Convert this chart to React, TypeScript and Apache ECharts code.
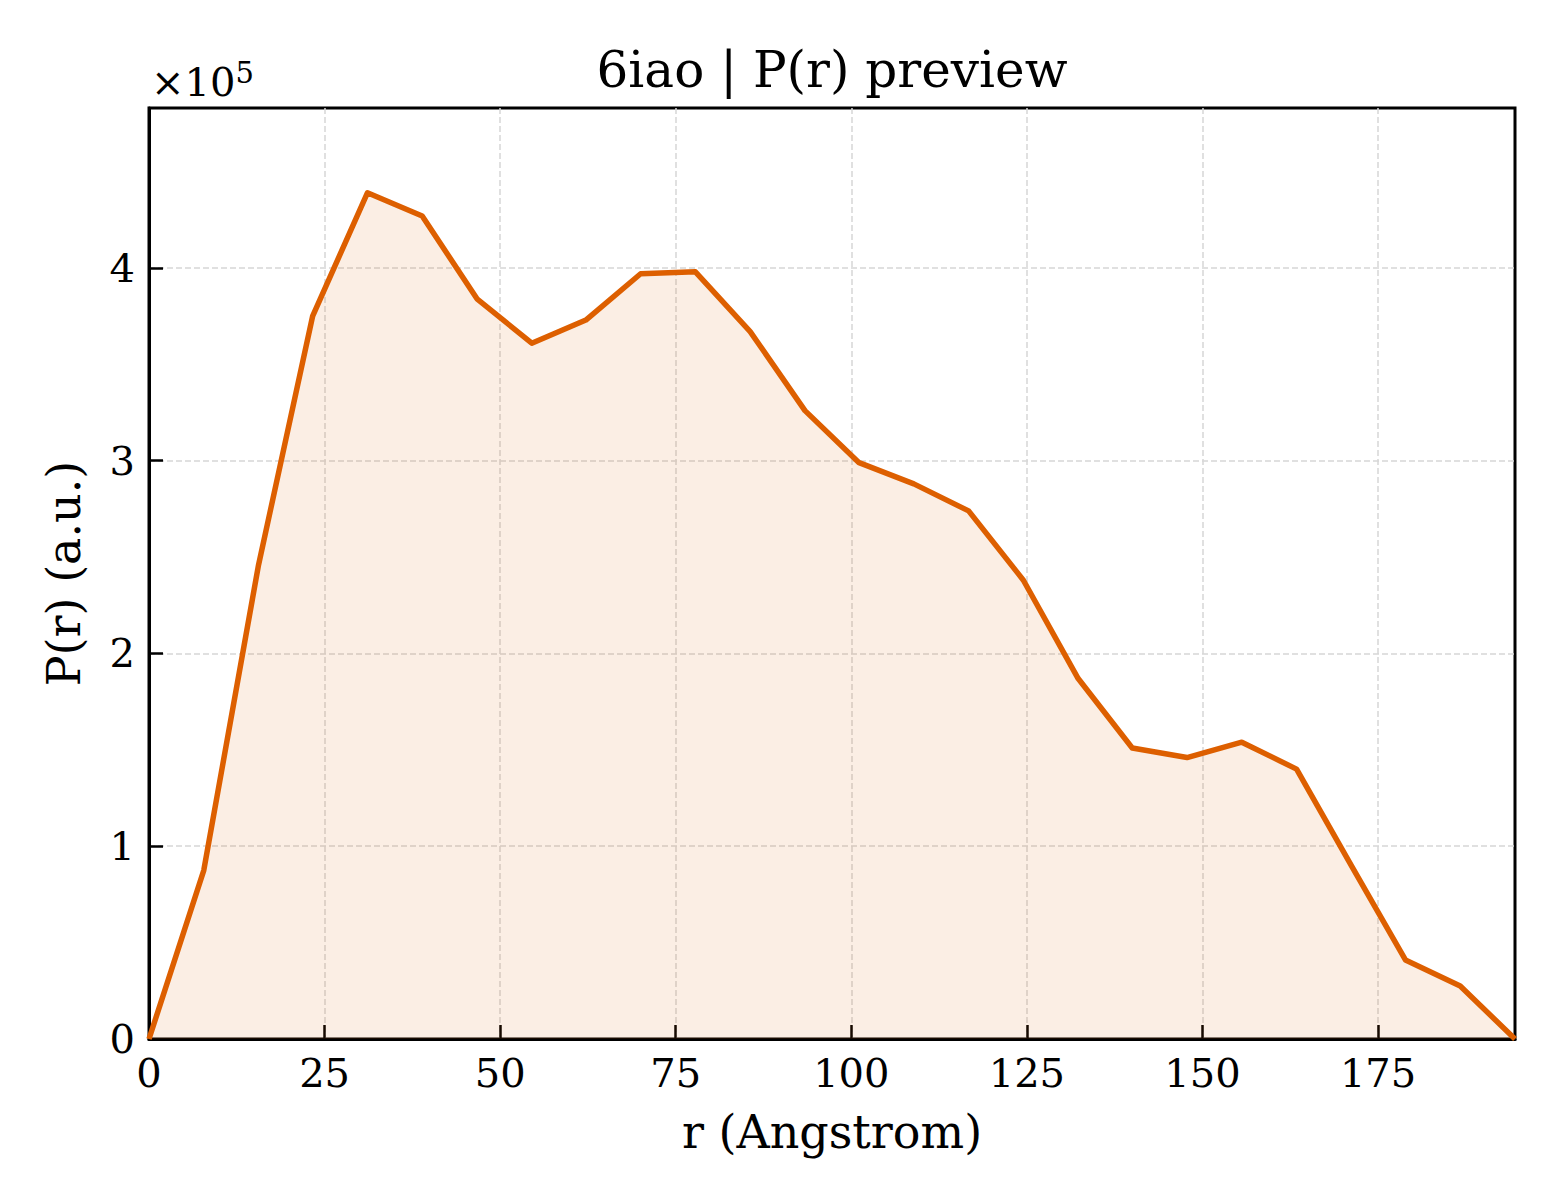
import React from 'react';
import * as echarts from 'echarts';

// P(r) curve, r in Angstrom, P(r) in units of 1e5
const rValues = [
  0, 7.8, 15.6, 23.3, 31.1, 38.9, 46.7, 54.5, 62.2, 70.0, 77.8, 85.6, 93.4,
  101.1, 108.9, 116.7, 124.5, 132.3, 140.0, 147.8, 155.6, 163.4, 171.2, 178.9,
  186.7, 194.5,
];
const pValues = [
  0, 0.875, 2.46, 3.75, 4.39, 4.27, 3.84, 3.61, 3.73, 3.97, 3.98, 3.67, 3.26,
  2.99, 2.88, 2.74, 2.38, 1.87, 1.51, 1.46, 1.54, 1.40, 0.90, 0.41, 0.275, 0,
];
const xTicks = [0, 25, 50, 75, 100, 125, 150, 175];
const yTicks = [0, 1, 2, 3, 4];

const FONT = 'DejaVu Serif';
const LINE = '#dd5f00';

const App: React.FC = () => {
  const chartRef = React.useRef<HTMLDivElement>(null);

  React.useEffect(() => {
    if (!chartRef.current) return;
    document.body.style.margin = '0';
    const chart = echarts.init(chartRef.current, null, { renderer: 'svg' });

    const gridLine = {
      show: true,
      showMinLine: false,
      showMaxLine: false,
      lineStyle: { color: '#d6d6d6', width: 1.5, type: [6, 3] },
    };

    chart.setOption({
      animation: false,
      backgroundColor: '#ffffff',
      title: {
        text: '6iao | P(r) preview',
        left: 827,
        top: 40,
        textAlign: 'center',
        textStyle: { fontFamily: FONT, fontWeight: 'normal', fontSize: 50, color: '#000' },
      },
      graphic: [
        {
          type: 'text',
          left: 151,
          top: 58,
          style: {
            text: '{a|×10}{b|5}',
            fill: '#000',
            rich: {
              a: { fontFamily: FONT, fontSize: 40, verticalAlign: 'bottom', lineHeight: 44 },
              b: { fontFamily: FONT, fontSize: 29, verticalAlign: 'top', lineHeight: 44 },
            },
          },
        },
      ],
      grid: {
        left: 149,
        top: 108,
        width: 1366,
        height: 931,
        show: true,
        borderColor: '#000',
        borderWidth: 3,
        backgroundColor: 'transparent',
      },
      xAxis: {
        type: 'value',
        min: 0,
        max: 194.5,
        interval: 25,
        name: 'r (Angstrom)',
        nameLocation: 'middle',
        nameGap: 70,
        nameTextStyle: { fontFamily: FONT, fontSize: 46, color: '#000' },
        axisLine: { show: true, lineStyle: { color: '#000', width: 3 } },
        axisTick: { show: true, inside: true, length: 14, lineStyle: { color: '#000', width: 2.5 } },
        axisLabel: {
          fontFamily: FONT,
          fontSize: 40,
          color: '#000',
          margin: 14,
          showMaxLabel: false,
          formatter: (v: number) => (xTicks.includes(v) ? String(v) : ''),
        },
        splitLine: gridLine,
      },
      yAxis: {
        type: 'value',
        min: 0,
        max: 4.83,
        interval: 1,
        name: 'P(r) (a.u.)',
        nameLocation: 'middle',
        nameGap: 62,
        nameTextStyle: { fontFamily: FONT, fontSize: 46, color: '#000' },
        axisLine: { show: true, lineStyle: { color: '#000', width: 3 } },
        axisTick: { show: true, inside: true, length: 14, lineStyle: { color: '#000', width: 2.5 } },
        axisLabel: {
          fontFamily: FONT,
          fontSize: 40,
          color: '#000',
          margin: 14,
          showMaxLabel: false,
          formatter: (v: number) => (yTicks.includes(v) ? String(v) : ''),
        },
        splitLine: gridLine,
      },
      series: [
        {
          type: 'line',
          data: rValues.map((r, i) => [r, pValues[i]]),
          symbol: 'none',
          lineStyle: { color: LINE, width: 5.5, join: 'round' },
          areaStyle: { color: 'rgba(221, 95, 0, 0.15)' },
        },
      ],
    });

    return () => {
      chart.dispose();
    };
  }, []);

  return <div ref={chartRef} style={{ width: '1560px', height: '1200px' }} />;
};

export default App;
